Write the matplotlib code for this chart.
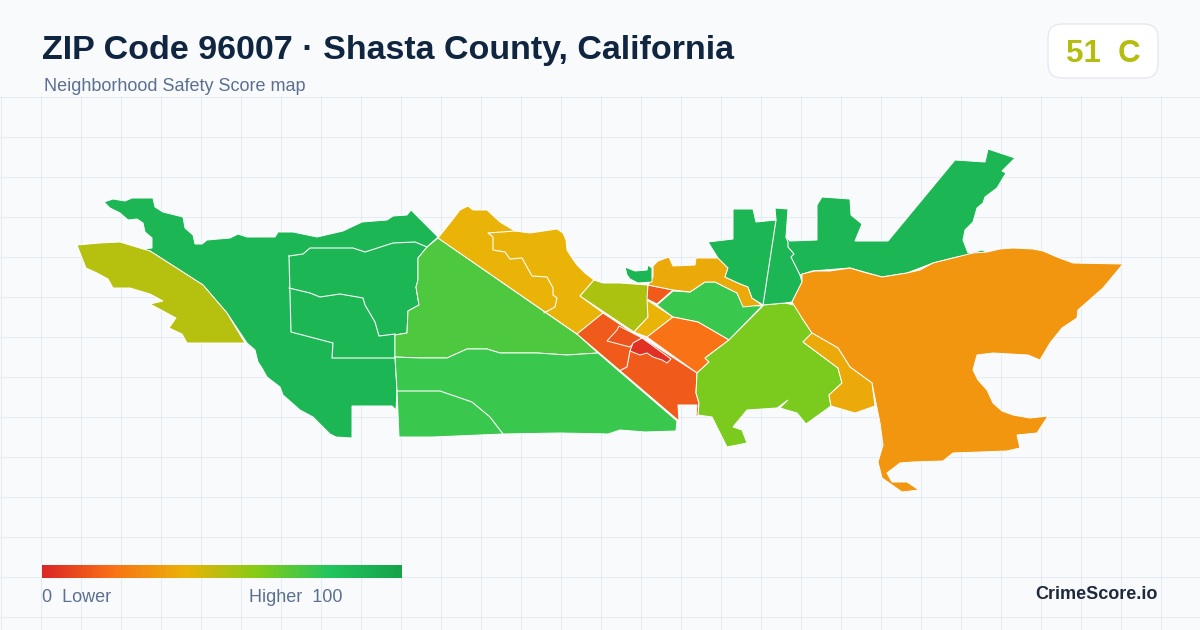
#!/usr/bin/env python3
# Safety score map for ZIP 96007, outlines traced in image pixels
import matplotlib
matplotlib.use('Agg')
import numpy as np
import matplotlib.pyplot as plt
from matplotlib.colors import LinearSegmentedColormap
from matplotlib.patches import FancyBboxPatch, Polygon

plt.rcParams['font.family'] = ['Liberation Sans', 'DejaVu Sans']

# score of each tract and its outline
west_olive_score = 50
west_olive = [(77,245),(100,243),(120,242),(143,249),(150,251),(175,267),(203,285),(227,313),(245,343),
              (187,343),(182,334),(169,328),(176,318),(163,311),(150,304),(163,301),(150,294),(130,288),
              (113,288),(108,279),(97,273),(86,268),(82,258)]

west_green_score = 89
west_green = [(104,202),(113,199),(125,201),(132,198),(153,198),(155,207),(163,212),(183,217),(185,228),
              (193,235),(195,244),(202,244),(207,240),(230,238),(238,234),(247,237),(275,237),(278,232),
              (293,232),(317,237),(343,231),(362,222),(387,220),(393,216),(407,215),(411,210),(438,237),
              (427,247),(418,258),(418,280),(416,287),(419,305),(408,311),(407,333),(395,335),(395,357),
              (397,390),(396,410),(392,406),(352,406),(352,438),(336,437),(330,434),(323,427),(313,417),(300,410),
              (283,395),(280,387),(267,377),(262,368),(258,362),(255,350),(247,343),(227,313),(203,285),(175,267),
              (150,251),(143,249),(152,248),(152,238),(145,232),(143,223),(137,219),(128,220),(120,213),(110,208)]

mid_green_score = 71
mid_green = [(438,238),(578,335),(598,353),(567,355),(537,353),(500,353),(487,349),(467,349),(447,358),
             (420,358),(395,357),(395,335),(407,333),(408,311),(419,305),(416,287),(418,280),(418,258),(427,247)]

south_green_score = 75
south_green = [(395,357),(420,358),(447,358),(467,349),(487,349),(500,353),(537,353),(567,355),(598,353),
               (677,421),(676,431),(645,432),(620,430),(608,434),(560,433),(503,434),(433,437),(399,437),(397,390)]

gold_score = 40
gold = [(438,238),(450,223),(460,210),(468,206),(473,210),(487,210),(500,222),(515,231),(530,233),(557,229),
        (563,233),(566,240),(567,250),(572,258),(577,265),(585,273),(594,280),(580,296),(603,313),(577,334)]

center_olive_score = 52
center_olive = [(594,280),(603,283),(620,283),(648,285),(648,317),(634,332),(580,296)]

center_gold_score = 40
center_gold = [(647,300),(673,317),(647,337),(634,332),(648,317)]

small_orange_score = 14
small_orange = [(648,285),(673,290),(657,304),(647,299)]

east_green_score = 75
east_green = [(673,291),(690,292),(705,282),(715,282),(737,293),(743,305),(762,306),(729,340),(698,322),(673,317),(657,305)]

top_gold_score = 37
top_gold = [(653,266),(658,261),(669,257),(673,266),(695,265),(696,258),(718,258),(728,268),(725,277),(738,283),
            (748,287),(752,298),(762,305),(743,307),(737,293),(715,282),(705,282),(690,292),(673,290),(648,285),(653,277)]

patch_green_score = 89
patch_green = [(625,267),(635,271),(647,270),(648,265),(652,268),(652,282),(638,283),(630,279),(627,275)]

orange_score = 20
orange = [(673,317),(698,322),(729,340),(705,358),(709,362),(697,373),(647,337)]

south_orange_score = 14
south_orange = [(603,313),(633,333),(643,338),(697,373),(696,393),(699,403),(698,416),(696,416),(697,405),
                (678,405),(679,421),(577,334)]

inner_orange_score = 12
inner_orange = [(607,341),(617,330),(619,326),(642,338),(634,343),(630,347)]

red_score = 3
red = [(642,338),(671,359),(667,363),(662,360),(653,357),(647,353),(640,355),(630,351),(633,343)]

lime_score = 62
lime = [(763,305),(785,303),(798,306),(802,318),(812,333),(803,342),(838,368),(842,383),(829,395),(831,406),
        (806,424),(797,413),(780,408),(788,400),(777,408),(747,410),(733,427),(742,430),(747,443),(727,447),
        (712,417),(698,415),(699,403),(696,393),(697,373),(709,362),(705,358),(729,340),(762,307)]

main_orange_score = 31
main_orange = [(802,274),(815,271),(830,271),(850,268),(863,272),(882,277),(907,273),(920,270),(933,263),(957,257),
               (973,253),(987,252),(1000,249),(1013,248),(1033,249),(1043,251),(1057,257),(1073,263),(1123,264),
               (1103,288),(1078,310),(1077,318),(1062,328),(1050,343),(1040,360),(1028,355),(993,353),(977,355),
               (973,370),(978,380),(987,390),(993,403),(1002,411),(1013,415),(1030,418),(1048,416),(1037,433),(1017,435),
               (1020,448),(1007,451),(953,453),(943,461),(913,462),(900,463),(887,473),(892,482),(907,482),(919,490),
               (902,492),(882,478),(878,462),(883,445),(880,423),(872,383),(850,367),(838,348),(812,333),(802,318),
               (792,302),(802,282)]

side_gold_score = 37
side_gold = [(812,333),(838,348),(850,367),(872,383),(875,406),(855,413),(831,406),(829,395),(842,383),(838,368),(803,342)]

north_green_score = 89
north_green = [(708,242),(733,239),(733,209),(753,209),(756,222),(776,220),(775,208),(788,209),(786,237),(790,241),
               (817,240),(817,205),(822,197),(850,199),(851,215),(862,224),(855,241),(888,241),(955,160),(985,162),
               (988,149),(1015,158),(1002,171),(1006,173),(997,188),(985,197),(983,203),(977,208),(973,222),(965,230),
               (963,240),(968,253),(975,252),(982,250),(987,252),(957,257),(933,263),(907,273),(882,277),(850,268),
               (812,271),(800,275),(802,282),(792,302),(785,303),(763,305),(752,298),(748,287),(738,283),(725,277),
               (728,268),(718,258)]

tracts = [(west_green, west_green_score), (west_olive, west_olive_score), (mid_green, mid_green_score),
          (south_green, south_green_score), (gold, gold_score), (center_olive, center_olive_score),
          (center_gold, center_gold_score), (small_orange, small_orange_score), (east_green, east_green_score),
          (top_gold, top_gold_score), (patch_green, patch_green_score), (orange, orange_score),
          (south_orange, south_orange_score), (inner_orange, inner_orange_score), (red, red_score),
          (lime, lime_score), (north_green, north_green_score), (main_orange, main_orange_score),
          (side_gold, side_gold_score)]

# tract borders that run inside a colour block
borders = [
    [(289,256),(303,254),(310,248),(353,248),(365,252),(393,243),(415,242),(427,247)],
    [(289,256),(291,332),(333,343),(332,358),(395,358)],
    [(289,288),(310,293),(320,297),(340,294),(363,298),(365,305),(375,322),(379,336),(395,334)],
    [(397,391),(440,391),(472,402),(490,417),(503,434)],
    [(515,231),(488,233),(493,237),(493,250),(505,252),(510,259),(522,258),(532,276),(547,277),(553,288),
     (553,295),(557,298),(555,307),(544,313)],
    [(630,351),(627,367),(619,371)],
    [(776,220),(763,305)],
    [(786,237),(788,242),(788,247),(794,254),(791,257),(800,275)],
]

# colour scale
scale_stops = [0, 20, 40, 60, 80, 100]
scale_colors = ['#dc2626', '#f97316', '#eab308', '#84cc16', '#22c55e', '#16a34a']
grid_x = np.arange(0.5, 1200, 40)
grid_y = np.arange(96.5, 630, 40)

cmap = LinearSegmentedColormap.from_list('score', [(s / 100, c) for s, c in zip(scale_stops, scale_colors)])

fig = plt.figure(figsize=(12, 6.3), dpi=100, facecolor='#f8fafc')
ax = fig.add_axes([0, 0, 1, 1])
ax.set_xlim(0, 1200)
ax.set_ylim(630, 0)
ax.axis('off')

# background grid, only below the header
ax.vlines(grid_x, 96, 630, color='#dbe4ef', lw=0.8, alpha=0.6, zorder=1)
ax.hlines(grid_y, 0, 1200, color='#dbe4ef', lw=0.8, alpha=0.6, zorder=1)

for outline, score in tracts:
    ax.add_patch(Polygon(outline, closed=True, facecolor=cmap(score / 100), edgecolor='white', lw=0.7, zorder=2))
for line in borders:
    xs, ys = zip(*line)
    ax.plot(xs, ys, color='white', lw=0.8, zorder=3)

# header
ax.text(42, 59, 'ZIP Code 96007 · Shasta County, California', fontsize=24.5, fontweight='bold', color='#0f2540')
ax.text(44, 91, 'Neighborhood Safety Score map', fontsize=12.95, color='#5b7090')

ax.add_patch(FancyBboxPatch((1062, 38), 82, 26, boxstyle='round,pad=14,rounding_size=14', facecolor='white',
                            edgecolor='#e2e8f0', lw=0.9, zorder=2))
ax.text(1103, 62, '51  C', fontsize=22.5, fontweight='bold', color='#b5bd10', ha='center', zorder=3)

# legend
ax.imshow(np.linspace(0, 1, 360)[None, :], cmap=cmap, extent=(42, 402, 578, 565), aspect='auto', zorder=3)
ax.set_xlim(0, 1200)
ax.set_ylim(630, 0)
ax.text(42, 602, '0  Lower', fontsize=12.95, color='#5b7090')
ax.text(249, 602, 'Higher  100', fontsize=12.95, color='#5b7090')
ax.text(1158, 599, 'CrimeScore.io', fontsize=13, fontweight='bold', color='#1e293b', ha='right')

fig.savefig('out.png', dpi=100, facecolor=fig.get_facecolor())
